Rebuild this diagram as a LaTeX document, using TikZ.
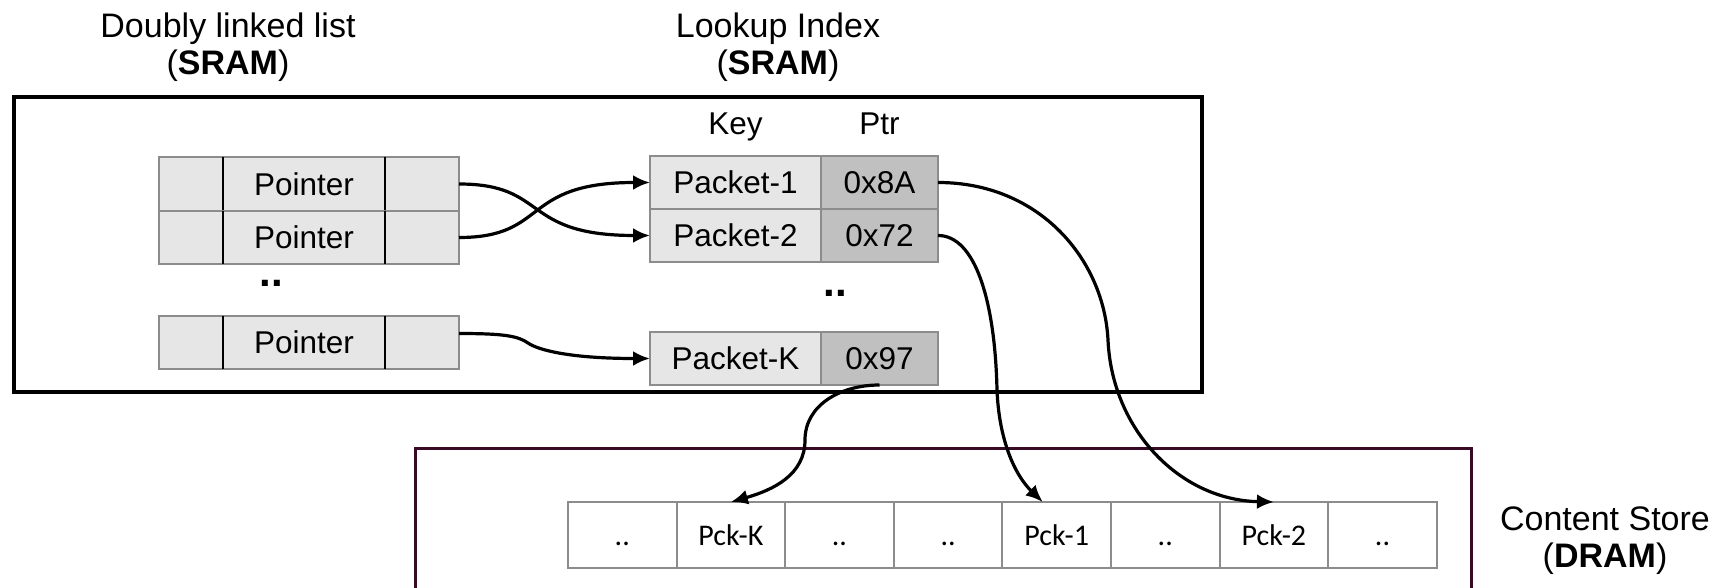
\documentclass[tikz,border=0pt]{standalone}
\usepackage{fontspec}
\setmainfont{Liberation Sans}
\newfontfamily\storefont{Carlito}
\usetikzlibrary{positioning}
\usetikzlibrary{arrows.meta}
\definecolor{cellgray}{RGB}{230,230,230}
\definecolor{ptrgray}{RGB}{192,192,192}
\definecolor{linegray}{RGB}{140,140,140}
\definecolor{dramframe}{RGB}{56,10,40}
\tikzstyle{listcell}=[rectangle,draw=linegray,fill=cellgray,line width=1pt,minimum height=26.75pt,inner sep=0pt,outer sep=0pt,font=\fontsize{15.75pt}{18pt}\selectfont]
\tikzstyle{keycell}=[listcell,minimum width=85.5pt,minimum height=26.5pt]
\tikzstyle{ptrcell}=[keycell,fill=ptrgray,minimum width=58.5pt]
\tikzstyle{storecell}=[rectangle,draw=linegray,fill=white,line width=1pt,minimum width=54.3pt,minimum height=33pt,inner sep=0pt,outer sep=0pt,text height=10pt,text depth=0pt,font=\storefont\fontsize{15pt}{17pt}\selectfont]
\tikzstyle{divider}=[draw=black,line width=1.2pt]
\tikzstyle{edge}=[draw,line width=1.6pt,-{Latex[length=8.5pt,width=7.5pt]}]
\tikzstyle{title}=[align=center,font=\fontsize{17pt}{18.5pt}\selectfont]
\tikzstyle{head}=[font=\fontsize{15.75pt}{18pt}\selectfont]
\tikzstyle{dots}=[font=\fontsize{21pt}{24pt}\selectfont\bfseries,inner sep=0pt]

\begin{document}
\begin{tikzpicture}[x=0.5pt,y=-0.5pt]
    \useasboundingbox (0,0) rectangle (1719,588);

    % memories
    \draw[line width=2pt] (14,97) rectangle (1202,392);
    \draw[line width=1.5pt,draw=dramframe] (415,592) -- (415,448) -- (1471,448) -- (1471,592);

    \node[title] (listtitle) at (228,47) {Doubly linked list\\(\textbf{SRAM})};
    \node[title] (indextitle) at (778,47) {Lookup Index\\(\textbf{SRAM})};
    \node[title] (storetitle) at (1605,541) {Content Store\\(\textbf{DRAM})};

    % doubly linked list
    \foreach \y/\n/\txt in {184/1/Pointer, 237.5/2/Pointer, 342.5/3/Pointer} {
        \node[listcell, minimum width=32pt] (la\n) at (191,\y) {};
        \node[listcell, minimum width=81pt, right=0pt of la\n] (lb\n) {\txt};
        \node[listcell, minimum width=37pt, right=0pt of lb\n] (lc\n) {};
        \path[divider] (lb\n.north west) -- (lb\n.south west) (lb\n.north east) -- (lb\n.south east);
    }
    \node[dots] (listdots) at (271,283) {..};

    % lookup index
    \node[head, anchor=base] (keyhead) at (735.5,135) {Key};
    \node[head, anchor=base] (ptrhead) at (879.5,135) {Ptr};
    \foreach \y/\n/\key/\ptr in {182.5/1/Packet-1/0x8A, 235.5/2/Packet-2/0x72, 358.5/K/Packet-K/0x97} {
        \node[keycell] (key\n) at (735.5,\y) {\key};
        \node[ptrcell, right=0pt of key\n] (ptr\n) {\ptr};
    }
    \node[dots] (indexdots) at (835,293) {..};

    % content store
    \foreach \i/\txt in {1/.., 2/Pck-K, 3/.., 4/.., 5/Pck-1, 6/.., 7/Pck-2, 8/..}
        \node[storecell] (s\i) at ({513.7+108.6*\i},535) {\txt};

    % links
    \path[edge] (lc1.east) .. controls +(90,0) and +(-130,0) .. (key2.west);
    \path[edge] (lc2.east) .. controls +(90,0) and +(-130,0) .. (key1.west);
    \path[edge] ([yshift=4.5pt]lc3.east) .. controls +(45,0) and +(-10,-7) .. (528,343)
        .. controls +(10,7) and +(-80,0) .. (keyK.west);

    \path[edge] (ptr1.east) .. controls +(102,0) and +(-4,-80) .. (1108,340)
        .. controls +(4,90) and +(-94,-2) .. (s7.north);
    \path[edge] (ptr2.east) .. controls +(37,0) and +(-2,-90) .. (997,390)
        .. controls +(2,50) and +(-28,-27) .. ([xshift=-7pt]s5.north);
    \path[edge] (ptrK.south) .. controls +(-39,0) and +(0,-35) .. (805,440)
        .. controls +(0,35) and +(42,-12) .. (s2.north);
\end{tikzpicture}
\end{document}
